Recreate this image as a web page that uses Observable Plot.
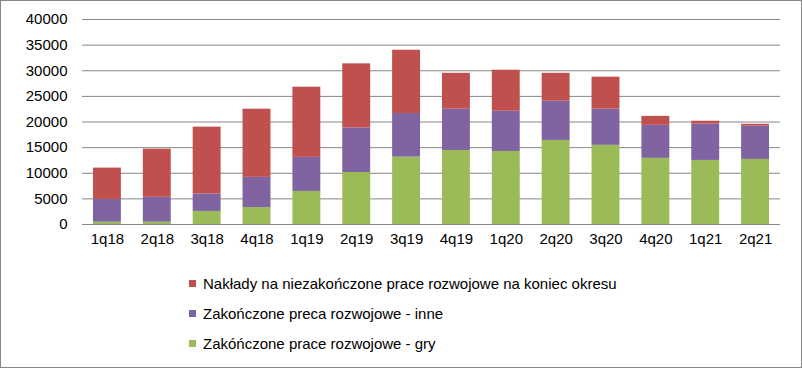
<!DOCTYPE html>
<html><head><meta charset="utf-8">
<script src="https://cdn.jsdelivr.net/npm/d3@7"></script>
<script src="https://cdn.jsdelivr.net/npm/@observablehq/plot@0.6"></script>
<style>
html,body{margin:0;padding:0;background:#fff;}
#wrap{position:relative;width:800px;height:366px;border:1px solid #868686;font-family:"Liberation Sans",Arial,sans-serif;overflow:hidden;}
#legend{position:absolute;left:188px;top:270px;font-size:15px;color:#000;}
.row{position:relative;height:30px;line-height:26px;padding-left:14px;white-space:nowrap;}
.sw{position:absolute;left:0;top:9px;width:7px;height:7px;}
</style></head>
<body><div id="wrap"><div id="chart"></div><div id="legend"></div></div>
<script>
const quarters = ["1q18","2q18","3q18","4q18","1q19","2q19","3q19","4q19","1q20","2q20","3q20","4q20","1q21","2q21"];
const gry = [450,450,2550,3300,6450,10150,13150,14450,14250,16400,15450,12900,12500,12700];
const inne = [4450,4850,3400,5900,6650,8700,8500,8050,7850,7650,7050,6450,7100,6500];
const naklady = [6100,9400,13050,13300,13700,12500,12350,7000,8000,5450,6250,1750,550,350];
const seriesNames = ["Zakóńczone prace rozwojowe - gry","Zakończone preca rozwojowe - inne","Nakłady na niezakończone prace rozwojowe na koniec okresu"];
const colors = ["#9BBB59","#8064A2","#C0504D"];
const yTicks = [0,5000,10000,15000,20000,25000,30000,35000,40000];

const seriesValues = [gry, inne, naklady];
const data = [];
seriesNames.forEach((s, si) => quarters.forEach((q, qi) => data.push({q, s, v: seriesValues[si][qi]})));

const chart = Plot.plot({
  width: 800, height: 250,
  marginLeft: 81, marginRight: 21, marginTop: 18, marginBottom: 27,
  style: {fontFamily: '"Liberation Sans",Arial,sans-serif', fontSize: "15px", color: "#000", background: "#fff"},
  x: {domain: quarters, paddingInner: 0.44, paddingOuter: 0.22, round: false, label: null},
  y: {domain: [0, 40000], label: null},
  color: {domain: seriesNames, range: colors},
  marks: [
    Plot.gridY(yTicks, {stroke: "#868686", strokeOpacity: 1, strokeWidth: 1}),
    Plot.barY(data, {x: "q", y: "v", fill: "s", order: seriesNames}),
    Plot.axisY(yTicks, {tickSize: 0, tickPadding: 15, tickFormat: d => String(d), fill: "#000"}),
    Plot.axisX({tickSize: 0, tickPadding: 9, fill: "#000"})
  ]
});
document.getElementById("chart").appendChild(chart);

const leg = document.getElementById("legend");
[2,1,0].forEach(i => {
  const r = document.createElement("div"); r.className = "row";
  const sw = document.createElement("span"); sw.className = "sw"; sw.style.background = colors[i];
  r.appendChild(sw); r.appendChild(document.createTextNode(seriesNames[i]));
  leg.appendChild(r);
});
</script></body></html>
